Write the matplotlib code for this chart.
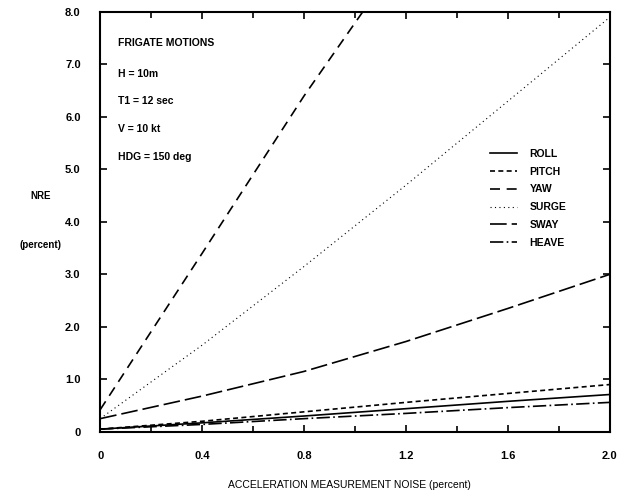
import matplotlib
matplotlib.use("Agg")
import matplotlib.pyplot as plt
import matplotlib.ticker as mticker

plt.rcParams['font.family'] = ['Liberation Sans', 'DejaVu Sans']
plt.rcParams['font.weight'] = 'bold'

# NRE (percent) against acceleration measurement noise (percent)
noise = [0.0, 0.4, 0.8, 1.2, 1.6, 2.0]
roll = [0.05, 0.17, 0.30, 0.44, 0.58, 0.71]
pitch = [0.05, 0.20, 0.38, 0.56, 0.73, 0.90]
surge = [0.25, 1.65, 3.15, 4.70, 6.30, 7.90]
sway = [0.25, 0.68, 1.15, 1.72, 2.35, 3.00]
heave = [0.05, 0.14, 0.25, 0.35, 0.46, 0.56]
# yaw runs off the top of the plot just past 1.0
yaw_noise = [0.0, 0.4, 0.8, 1.03]
yaw = [0.42, 3.40, 6.40, 8.00]

case_text = ['FRIGATE MOTIONS', 'H = 10m', 'T1 = 12 sec', 'V = 10 kt', 'HDG = 150 deg']

fig = plt.figure(figsize=(6.3, 4.98), dpi=100)
ax = fig.add_axes([0.159, 0.133, 0.809, 0.843])

lw = 1.2
ax.plot(noise, roll, color='black', lw=lw, ls='-', label='ROLL')
ax.plot(noise, pitch, color='black', lw=lw, ls=(0, (3, 2)), label='PITCH')
ax.plot(yaw_noise, yaw, color='black', lw=lw, ls=(0, (6, 4)), label='YAW')
ax.plot(noise, surge, color='black', lw=0.8, ls=(0, (1, 3)), label='SURGE')
ax.plot(noise, sway, color='black', lw=lw, ls=(0, (10, 3)), label='SWAY')
ax.plot(noise, heave, color='black', lw=lw, ls=(0, (8, 2, 1, 2)), label='HEAVE')

ax.set_xlim(0, 2.0)
ax.set_ylim(0, 8.0)

ax.xaxis.set_major_locator(mticker.MultipleLocator(0.4))
ax.xaxis.set_minor_locator(mticker.MultipleLocator(0.2))
ax.yaxis.set_major_locator(mticker.MultipleLocator(1.0))
ax.xaxis.set_major_formatter(mticker.FuncFormatter(lambda v, p: '0' if v == 0 else '%.1f' % v))
ax.yaxis.set_major_formatter(mticker.FuncFormatter(lambda v, p: '0' if v == 0 else '%.1f' % v))

ax.tick_params(which='both', direction='in', top=True, right=True, width=1.2)
ax.tick_params(which='major', length=5, labelsize=8, pad=14)
ax.tick_params(which='minor', length=4)

for s in ax.spines.values():
    s.set_linewidth(1.5)

# axis titles sit horizontally, like the rest of the lettering
fig.text(0.064, 0.606, 'NRE', fontsize=7, ha='center', va='center')
fig.text(0.064, 0.508, '(percent)', fontsize=7, ha='center', va='center')
fig.text(0.555, 0.016, 'ACCELERATION MEASUREMENT NOISE (percent)', fontsize=7.5,
         ha='center', va='bottom', fontweight='normal')

y0 = 0.927
for i, t in enumerate(case_text):
    ax.text(0.035, y0 - i * 0.066 - (0.008 if i > 0 else 0), t, transform=ax.transAxes,
            fontsize=7.5, ha='left', va='center')

ax.legend(loc='upper left', bbox_to_anchor=(0.765, 0.674), frameon=False,
          fontsize=7.5, handlelength=2.6, handletextpad=1.2, labelspacing=0.75,
          borderpad=0, borderaxespad=0)

fig.savefig('out.png', dpi=100)
